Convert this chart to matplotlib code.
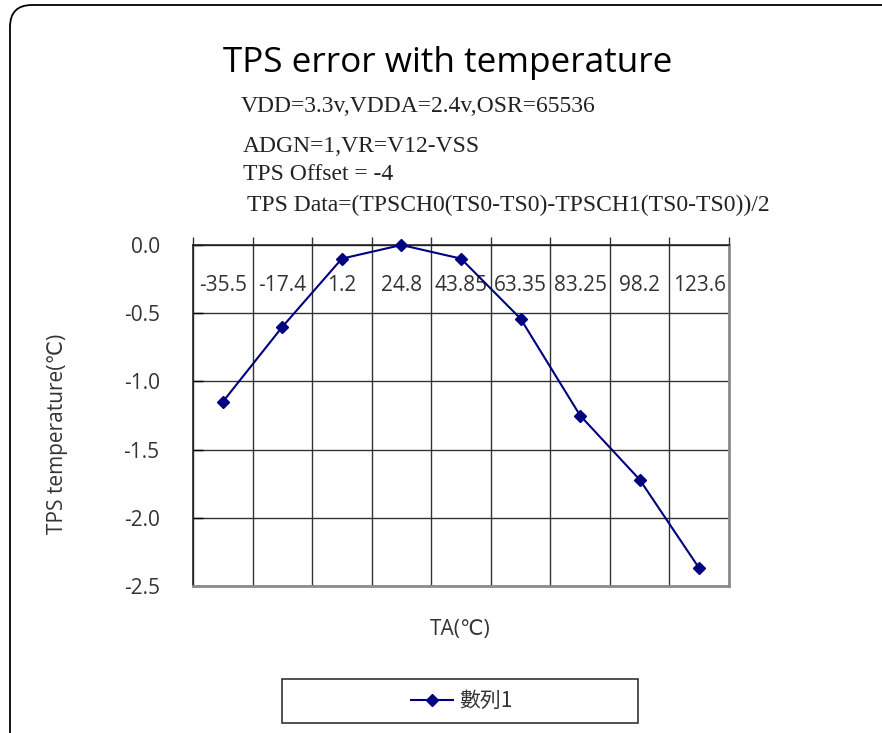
import matplotlib
matplotlib.use("Agg")
import matplotlib.pyplot as plt
from matplotlib.patches import FancyBboxPatch, Rectangle
from matplotlib.ticker import FixedLocator, NullFormatter
import numpy as np

# temperature points (TA, degC) and measured TPS error
ta_labels = ["-35.5", "-17.4", "1.2", "24.8", "43.85", "63.35", "83.25", "98.2", "123.6"]
tps_error = [-1.15, -0.60, -0.10, 0.0, -0.10, -0.54, -1.25, -1.72, -2.37]
y_ticks = [0.0, -0.5, -1.0, -1.5, -2.0, -2.5]

notes = [
    ("VDD=3.3v,VDDA=2.4v,OSR=65536", 241, 107),
    ("ADGN=1,VR=V12-VSS", 243, 147),
    ("TPS Offset = -4", 243, 175),
    ("TPS Data=(TPSCH0(TS0-TS0)-TPSCH1(TS0-TS0))/2", 247, 205),
]

W, H = 882, 733
sans = ["Open Sans", "DejaVu Sans"]
cjk = ["Noto Sans CJK TC", "DejaVu Sans"]
plt.rcParams["font.family"] = sans

fig = plt.figure(figsize=(W / 100, H / 100), dpi=100)

# rounded slide frame
frame = FancyBboxPatch((0.10, -0.5), 8.97, 7.78,
                       boxstyle="round,pad=0,rounding_size=0.22",
                       transform=fig.dpi_scale_trans, fill=False,
                       edgecolor="black", lw=1.3, zorder=0)
fig.patches.append(frame)

ax = fig.add_axes([193 / W, 1 - 586 / H, (729 - 193) / W, (586 - 245) / H])
x = np.arange(len(ta_labels))
ax.plot(x, tps_error, color="#000080", lw=1.5, marker="D", ms=6.5,
        markeredgecolor="#000080", zorder=3, clip_on=False)

ax.set_xlim(-0.5, len(ta_labels) - 0.5)
ax.set_ylim(-2.5, 0.0)

# category boundaries carry the ticks and grid, labels sit in the middle
ax.xaxis.tick_top()
ax.xaxis.set_major_locator(FixedLocator(np.arange(len(ta_labels) + 1) - 0.5))
ax.xaxis.set_major_formatter(NullFormatter())
ax.set_xticks(x, minor=True)
ax.set_xticklabels(ta_labels, minor=True)
ax.tick_params(axis="x", which="major", direction="out", length=6, width=1, color="#333333")
ax.tick_params(axis="x", which="minor", length=0, labeltop=True, pad=-37,
               labelsize=15, labelcolor="#333333")
for lbl in ax.get_xticklabels(minor=True):
    lbl.set_verticalalignment("bottom")

ax.set_yticks(y_ticks)
ax.set_yticklabels([f"{v:.1f}" for v in y_ticks])
ax.tick_params(axis="y", direction="in", length=7, width=1, pad=24,
               labelsize=15, labelcolor="#333333")

ax.grid(True, which="major", color="#333333", lw=1)
for s in ("left", "top"):
    ax.spines[s].set_color("#222222")
    ax.spines[s].set_linewidth(1.2)
for s in ("right", "bottom"):
    ax.spines[s].set_color("#8c8c8c")
    ax.spines[s].set_linewidth(2)

fig.text(448 / W, 1 - 63 / H, "TPS error with temperature", fontsize=25.3,
         ha="center", va="center", color="black")
for txt, px, py in notes:
    fig.text(px / W, 1 - py / H, txt, family="Liberation Serif", fontsize=17,
             ha="left", va="center", color="#222222")

fig.text(58 / W, 1 - 434 / H, "TPS temperature(℃)", rotation=90, fontsize=15,
         ha="center", va="center", color="#333333", family=sans)
fig.text(460 / W, 1 - 630 / H, "TA(℃)", fontsize=15, ha="center", va="center",
         color="#333333", family=sans)

# legend box under the plot
fig.patches.append(Rectangle((282 / W, 1 - 723 / H), (638 - 282) / W, 44 / H,
                             transform=fig.transFigure, fill=False,
                             edgecolor="#333333", lw=1.2))
leg = fig.legend(ax.get_lines(), ["數列1"], loc="center",
                 bbox_to_anchor=(462 / W, 1 - 701 / H), frameon=False,
                 handlelength=2.0, handletextpad=0.3,
                 prop={"family": cjk, "size": 15})
for t in leg.get_texts():
    t.set_color("#333333")

fig.savefig("out.png", dpi=100)
